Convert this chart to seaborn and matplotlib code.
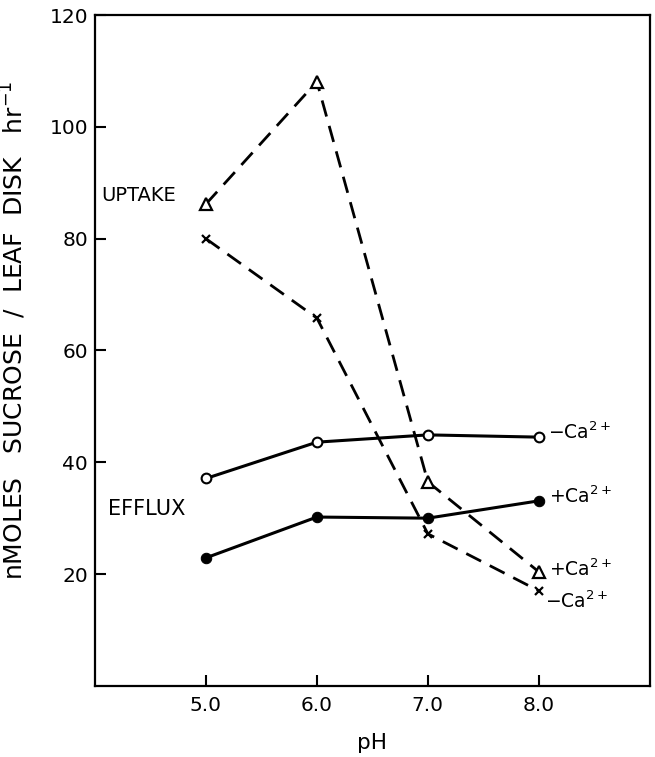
import pandas as pd
import matplotlib
matplotlib.use("Agg")
import matplotlib.pyplot as plt
import seaborn as sns

ph = [5.0, 6.0, 7.0, 8.0]
uptake_plus_ca = [86.2, 108.1, 36.5, 20.4]
uptake_minus_ca = [80.0, 65.8, 27.2, 17.0]
efflux_minus_ca = [37.1, 43.6, 44.9, 44.5]
efflux_plus_ca = [22.9, 30.2, 30.0, 33.1]

x_ticks = [5.0, 6.0, 7.0, 8.0]
x_tick_labels = ["5.0", "6.0", "7.0", "8.0"]
y_ticks = [20, 40, 60, 80, 100, 120]

sns.set_theme(style="ticks")
plt.rcParams['font.family'] = ['DejaVu Sans']
plt.rcParams['mathtext.fontset'] = 'dejavusans'
plt.rcParams['text.color'] = 'black'
plt.rcParams['axes.labelcolor'] = 'black'

fig = plt.figure(figsize=(6.55, 7.57), dpi=100)
ax = fig.add_axes([0.145, 0.094, 0.847, 0.886])

dash = (0, (6, 3.5))
sns.lineplot(x=ph, y=uptake_plus_ca, ax=ax, color="black", lw=2.0,
             linestyle=dash, marker="^", markersize=8, markerfacecolor="white",
             markeredgecolor="black", markeredgewidth=1.6)
sns.lineplot(x=ph, y=uptake_minus_ca, ax=ax, color="black", lw=2.0,
             linestyle=dash, marker="x", markersize=5.5,
             markeredgecolor="black", markeredgewidth=1.6)
sns.lineplot(x=ph, y=efflux_minus_ca, ax=ax, color="black", lw=2.2,
             marker="o", markersize=7, markerfacecolor="white",
             markeredgecolor="black", markeredgewidth=1.5)
sns.lineplot(x=ph, y=efflux_plus_ca, ax=ax, color="black", lw=2.2,
             marker="o", markersize=7.5, markerfacecolor="black",
             markeredgecolor="black")

ax.set_xlim(4.0, 9.0)
ax.set_ylim(0, 120)
ax.set_xticks(x_ticks)
ax.set_xticklabels(x_tick_labels)
ax.set_yticks(y_ticks)
ax.tick_params(direction="in", length=8, width=1.5, labelsize=14.5, colors="black")
ax.tick_params(axis="x", pad=7)
ax.tick_params(axis="y", pad=5)
for s in ax.spines.values():
    s.set_visible(True)
    s.set_linewidth(1.6)
    s.set_color("black")

ax.set_xlabel("pH", fontsize=15.5, labelpad=13)
ax.set_ylabel("nMOLES   SUCROSE  /  LEAF  DISK   hr$^{-1}$", fontsize=18)
ax.yaxis.set_label_coords(-0.121, 0.53)

ax.text(4.06, 87.8, "UPTAKE", fontsize=14, va="center", ha="left")
ax.text(4.12, 31.7, "EFFLUX", fontsize=15, va="center", ha="left")
ax.text(8.08, 45.3, "\u2212Ca$^{2+}$", fontsize=13.5, va="center", ha="left")
ax.text(8.09, 33.9, "+Ca$^{2+}$", fontsize=13.5, va="center", ha="left")
ax.text(8.09, 20.9, "+Ca$^{2+}$", fontsize=13.5, va="center", ha="left")
ax.text(8.06, 15.2, "\u2212Ca$^{2+}$", fontsize=13.5, va="center", ha="left")

fig.savefig("out.png", dpi=100)
